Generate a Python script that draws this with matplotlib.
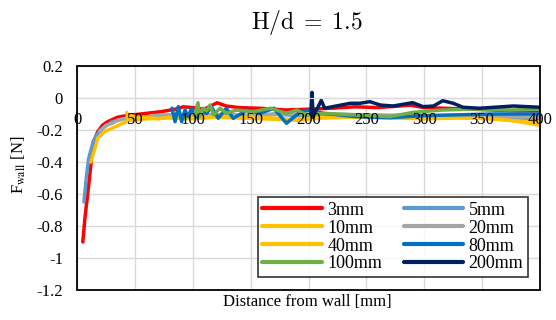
import matplotlib
matplotlib.use("Agg")
import matplotlib.pyplot as plt
from matplotlib.patches import Rectangle
from matplotlib.transforms import offset_copy

# ---------------------------------------------------------------------------
# Data
# ---------------------------------------------------------------------------
x_3mm = [5, 7, 10, 14, 18, 22, 26, 35, 43, 55, 72, 85, 92, 100, 110, 121, 129,
         140, 160, 180, 200, 220, 240, 260, 288, 300, 320, 340, 360, 380, 400]
y_3mm = [-0.90, -0.74, -0.55, -0.28, -0.21, -0.17, -0.15, -0.12, -0.11, -0.10,
         -0.086, -0.07, -0.055, -0.06, -0.07, -0.03, -0.05, -0.06, -0.065,
         -0.075, -0.07, -0.064, -0.055, -0.06, -0.045, -0.06, -0.065, -0.07,
         -0.075, -0.08, -0.08]

x_5mm = [6, 8, 10, 14, 20, 30, 40, 50, 70, 90, 110, 130, 150, 170, 190, 210,
         230, 260, 290, 320, 350, 380, 400]
y_5mm = [-0.65, -0.50, -0.38, -0.27, -0.20, -0.15, -0.13, -0.12, -0.115, -0.11,
         -0.11, -0.105, -0.11, -0.10, -0.11, -0.11, -0.115, -0.12, -0.12,
         -0.115, -0.12, -0.125, -0.13]

x_10mm = [12, 14, 18, 24, 33, 45, 60, 80, 100, 120, 140, 160, 180, 200, 230,
          260, 290, 320, 350, 375, 400]
y_10mm = [-0.40, -0.35, -0.25, -0.21, -0.18, -0.14, -0.13, -0.125, -0.13,
          -0.12, -0.125, -0.13, -0.135, -0.125, -0.12, -0.12, -0.125, -0.12,
          -0.125, -0.14, -0.17]

x_20mm = [20, 25, 30, 35, 42, 50, 56, 65, 80, 100, 120, 150, 180, 210, 250,
          300, 350, 400]
y_20mm = [-0.21, -0.17, -0.16, -0.14, -0.127, -0.12, -0.13, -0.11, -0.105,
          -0.10, -0.105, -0.11, -0.10, -0.10, -0.105, -0.11, -0.115, -0.12]

x_40mm = [43, 44, 47, 52, 60, 70, 80, 95, 110, 130, 150, 170, 190, 210, 240,
          270, 300, 330, 360, 380, 400]
y_40mm = [-0.09, -0.13, -0.11, -0.125, -0.12, -0.13, -0.12, -0.125, -0.12,
          -0.115, -0.12, -0.125, -0.14, -0.125, -0.12, -0.125, -0.13, -0.125,
          -0.13, -0.145, -0.15]

x_80mm = [82, 84.7, 87.5, 90.4, 93.3, 96, 99, 103, 107, 112, 116, 122, 129,
          135, 147, 158, 170, 181, 193, 201, 213, 242, 270, 300, 330, 360, 400]
y_80mm = [-0.064, -0.148, -0.054, -0.148, -0.075, -0.117, -0.064, -0.12,
          -0.08, -0.096, -0.054, -0.127, -0.064, -0.127, -0.075, -0.096,
          -0.064, -0.158, -0.086, -0.075, -0.096, -0.117, -0.123, -0.11,
          -0.105, -0.10, -0.10]

x_100mm = [102, 104.5, 106, 109, 112, 115, 118, 123.5, 129, 138, 152, 167,
           181, 190, 198, 213, 242, 270, 290, 316, 345, 374, 400]
y_100mm = [-0.106, -0.03, -0.117, -0.064, -0.08, -0.044, -0.106, -0.064,
           -0.096, -0.075, -0.086, -0.064, -0.096, -0.075, -0.106, -0.096,
           -0.106, -0.117, -0.09, -0.075, -0.069, -0.075, -0.07]

x_200mm = [202, 203, 204, 206, 208, 211, 214, 221, 236, 244.5, 253, 262, 273,
           290, 299, 308, 316, 325, 333.5, 348, 377, 400]
y_200mm = [-0.10, 0.035, -0.12, -0.08, -0.06, -0.015, -0.064, -0.054, -0.033,
           -0.033, -0.023, -0.044, -0.05, -0.029, -0.054, -0.05, -0.017,
           -0.033, -0.058, -0.064, -0.05, -0.058]

labels = ['3mm', '5mm', '10mm', '20mm', '40mm', '80mm', '100mm', '200mm']
colors = ['#FF0000', '#5B9BD5', '#FFC000', '#A5A5A5',
          '#FFC000', '#0070C0', '#70AD47', '#002060']
series = [(x_3mm, y_3mm), (x_5mm, y_5mm), (x_10mm, y_10mm), (x_20mm, y_20mm),
          (x_40mm, y_40mm), (x_80mm, y_80mm), (x_100mm, y_100mm),
          (x_200mm, y_200mm)]

x_ticks = [0, 50, 100, 150, 200, 250, 300, 350, 400]
y_ticks = [0.2, 0, -0.2, -0.4, -0.6, -0.8, -1, -1.2]

# ---------------------------------------------------------------------------
# Style
# ---------------------------------------------------------------------------
SERIF = 'Liberation Serif'
plt.rcParams.update({
    'font.family': SERIF,
    'font.size': 12,
})

fig = plt.figure(figsize=(5.56, 3.2), dpi=100)
ax = fig.add_axes([77 / 556, 1 - 290 / 320, 463 / 556, 224 / 320])

handles = []
for (xs, ys), lab, col in zip(series, labels, colors):
    h, = ax.plot(xs, ys, color=col, lw=2.5, label=lab, solid_capstyle='round')
    handles.append(h)

ax.set_xlim(0, 400)
ax.set_ylim(-1.2, 0.2)
ax.set_xticks(x_ticks)
ax.set_yticks(y_ticks)
ax.set_yticklabels(['0.2', '0', '-0.2', '-0.4', '-0.6', '-0.8', '-1', '-1.2'])
ax.grid(True, color='#D9D9D9', lw=1)
ax.set_axisbelow(True)
ax.tick_params(length=0)
ax.tick_params(axis='y', pad=10)

# x axis crosses at y = 0; labels sit just below it
ax.set_xticklabels([])
ax.spines['bottom'].set_position(('data', 0))
ax.spines['bottom'].set_color('#D9D9D9')
for s in ['left', 'right', 'top']:
    ax.spines[s].set_visible(False)
lab_tr = offset_copy(ax.transData, fig=fig, x=0, y=-10, units='points')
for xt in x_ticks:
    ax.text(xt, 0, str(xt), transform=lab_tr, ha='center', va='top',
            fontsize=12)

# plot-area border
ax.add_patch(Rectangle((0, 0), 1, 1, transform=ax.transAxes, fill=False,
                       edgecolor='black', lw=1.3, clip_on=False, zorder=5))

fig.text(0.552, 0.93, r'$\mathrm{H/d\;=\;1.5}$', ha='center', va='center',
         fontsize=17, math_fontfamily='cm')
fig.text(0.553, 0.057, 'Distance from wall [mm]', ha='center', va='center',
         fontsize=12)
fig.text(0.033, 0.484, r'F$_{\mathrm{wall}}$ [N]', ha='center', va='center',
         rotation=90, fontsize=12, math_fontfamily='stix')

# legend is filled row by row in the reference; matplotlib fills by column
order = [0, 2, 4, 6, 1, 3, 5, 7]
leg = ax.legend([handles[i] for i in order], [labels[i] for i in order],
                ncol=2, loc='lower right', bbox_to_anchor=(0.974, 0.058),
                borderaxespad=0, frameon=True, fancybox=False,
                edgecolor='black', handlelength=3.3, labelspacing=0.05,
                columnspacing=1.2, borderpad=0.25, handletextpad=0.3,
                fontsize=13)
leg.get_frame().set_linewidth(1.2)
leg.set_zorder(6)
for h in leg.get_lines():
    h.set_linewidth(3)

fig.savefig('out.png', dpi=100)
